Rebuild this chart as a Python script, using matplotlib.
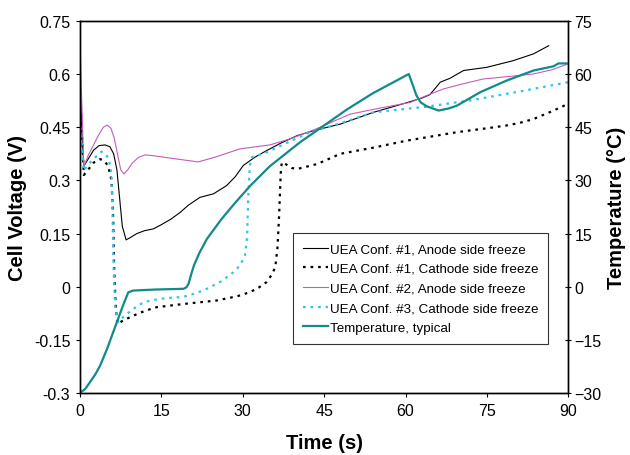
"""Cell voltage and temperature during freeze start-up for several UEA configurations."""

import matplotlib

matplotlib.use("Agg")
import matplotlib.pyplot as plt

plt.rcParams["font.family"] = ["Liberation Sans", "DejaVu Sans"]

# UEA Conf. #1, anode side freeze
t_a1 = [0.0, 0.4, 0.7, 1.5, 2.5, 3.5, 4.6, 5.5, 6.2, 6.8, 7.3, 7.8, 8.5, 9.2, 10.5,
        11.9, 13.5, 15.0, 16.8, 18.5, 19.9, 22.1, 24.6, 27.0, 28.6, 30.1, 32.2,
        34.4, 37.0, 40.0, 43.0, 48.0, 54.1, 60.2, 63.0, 64.5, 65.5, 66.4, 68.2,
        70.7, 75.0, 79.9, 83.6, 86.4]
v_a1 = [0.586, 0.42, 0.34, 0.36, 0.385, 0.398, 0.40, 0.395, 0.375, 0.33, 0.25,
        0.17, 0.132, 0.138, 0.15, 0.158, 0.163, 0.175, 0.191, 0.21, 0.229, 0.252,
        0.262, 0.285, 0.31, 0.342, 0.365, 0.384, 0.405, 0.426, 0.44, 0.459, 0.492,
        0.519, 0.532, 0.542, 0.56, 0.577, 0.588, 0.61, 0.619, 0.638, 0.657, 0.68]

# UEA Conf. #1, cathode side freeze
t_c1 = [0.0, 0.7, 1.5, 2.5, 3.7, 4.5, 5.2, 5.8, 6.1, 6.3, 6.6, 6.9, 8.0, 9.8, 12.0,
        14.1, 19.0, 25.2, 29.0, 31.4, 33.0, 34.4, 35.4, 36.0, 36.4, 36.7, 37.0,
        37.2, 38.0, 39.0, 40.0, 43.7, 48.0, 54.0, 60.2, 69.5, 75.0, 78.7, 81.0,
        83.6, 87.0, 90.0]
v_c1 = [0.55, 0.315, 0.33, 0.35, 0.36, 0.355, 0.34, 0.30, 0.2, 0.05, -0.06, -0.105,
        -0.095, -0.082, -0.068, -0.058, -0.049, -0.039, -0.027, -0.015, -0.002,
        0.013, 0.035, 0.056, 0.11, 0.2, 0.32, 0.351, 0.345, 0.335, 0.332, 0.346,
        0.375, 0.392, 0.412, 0.436, 0.447, 0.455, 0.462, 0.473, 0.495, 0.516]

# UEA Conf. #2, anode side freeze
t_a2 = [0.0, 0.7, 1.5, 2.5, 3.5, 4.3, 5.0, 5.7, 6.3, 6.9, 7.5, 8.1, 8.8, 9.7, 10.8,
        12.0, 13.8, 17.0, 21.8, 25.0, 29.5, 35.0, 38.7, 43.5, 49.8, 55.0, 60.9,
        64.0, 67.0, 70.5, 74.3, 79.0, 83.5, 87.0, 90.0]
v_a2 = [0.68, 0.338, 0.37, 0.40, 0.43, 0.45, 0.456, 0.447, 0.42, 0.375, 0.33,
        0.318, 0.33, 0.35, 0.365, 0.372, 0.369, 0.362, 0.352, 0.366, 0.389, 0.40,
        0.417, 0.445, 0.487, 0.503, 0.52, 0.54, 0.558, 0.572, 0.586, 0.593, 0.60,
        0.612, 0.629]

# UEA Conf. #3, cathode side freeze
t_c3 = [0.0, 0.7, 1.5, 2.5, 3.5, 4.0, 4.7, 5.3, 5.8, 6.0, 6.2, 6.5, 7.0, 8.0, 9.8,
        11.3, 12.9, 16.0, 19.0, 21.5, 23.4, 26.0, 28.3, 29.5, 30.4, 30.8, 31.0,
        31.3, 31.7, 34.4, 38.0, 42.4, 48.0, 54.1, 63.9, 72.5, 81.8, 90.0]
v_c3 = [0.47, 0.327, 0.345, 0.36, 0.375, 0.381, 0.375, 0.36, 0.32, 0.2, 0.05,
        -0.06, -0.10, -0.085, -0.063, -0.048, -0.039, -0.032, -0.029, -0.018,
        -0.006, 0.015, 0.041, 0.06, 0.088, 0.14, 0.25, 0.34, 0.365, 0.379, 0.405,
        0.436, 0.461, 0.492, 0.508, 0.527, 0.553, 0.577]

# Temperature, typical (right axis, degC)
t_temp = [0.0, 1.0, 1.8, 2.8, 3.7, 5.0, 6.8, 8.0, 8.9, 9.8, 14.0, 19.1, 19.6, 20.0,
          20.5, 21.0, 22.0, 23.4, 26.1, 28.5, 31.4, 35.0, 40.6, 45.0, 49.2, 54.0,
          60.6, 61.2, 62.0, 62.8, 63.9, 66.1, 68.0, 69.5, 73.8, 78.7, 83.6, 87.3,
          88.2, 90.0]
temp = [-30.0, -28.8, -27.0, -24.8, -22.3, -17.5, -10.0, -5.0, -1.6, -1.1, -0.8,
        -0.6, -0.2, 0.8, 3.5, 6.0, 9.5, 13.5, 19.1, 23.5, 28.5, 34.0, 40.8, 45.5,
        50.0, 54.6, 60.0, 57.5, 54.0, 52.0, 50.9, 49.7, 50.3, 51.1, 54.9, 58.2,
        61.0, 62.2, 63.0, 63.0]

x_ticks = [0, 15, 30, 45, 60, 75, 90]
v_ticks = [-0.3, -0.15, 0, 0.15, 0.3, 0.45, 0.6, 0.75]
v_labels = ["-0.3", "-0.15", "0", "0.15", "0.3", "0.45", "0.6", "0.75"]
temp_ticks = [-30, -15, 0, 15, 30, 45, 60, 75]

fig = plt.figure(figsize=(6.3, 4.56), dpi=100)
ax = fig.add_axes([0.127, 0.136, 0.775, 0.816])
ax2 = ax.twinx()

l1, = ax.plot(t_a1, v_a1, color="black", linewidth=0.8,
              label="UEA Conf. #1, Anode side freeze")
l2, = ax.plot(t_c1, v_c1, color="black", linewidth=1.6, linestyle=(0, (1.2, 2.2)),
              label="UEA Conf. #1, Cathode side freeze")
l3, = ax.plot(t_a2, v_a2, color="#c45cbf", linewidth=0.8,
              label="UEA Conf. #2, Anode side freeze")
l4, = ax.plot(t_c3, v_c3, color="#2ec4f0", linewidth=1.6, linestyle=(0, (1.2, 2.2)),
              label="UEA Conf. #3, Cathode side freeze")
l5, = ax2.plot(t_temp, temp, color="#128a8a", linewidth=1.6,
               label="Temperature, typical")

ax.set_xlim(0, 90)
ax.set_ylim(-0.3, 0.75)
ax2.set_ylim(-30, 75)
ax.set_xticks(x_ticks)
ax.set_yticks(v_ticks, v_labels)
ax2.set_yticks(temp_ticks)

for spine in list(ax.spines.values()) + list(ax2.spines.values()):
    spine.set_linewidth(1.0)
ax.tick_params(axis="both", direction="out", length=3, labelsize=11.5, pad=4)
ax2.tick_params(axis="y", direction="inout", length=5, labelsize=11.5, pad=2)

ax.set_xlabel("Time (s)", fontsize=14.5, fontweight="bold", labelpad=11)
ax.set_ylabel("Cell Voltage (V)", fontsize=14.5, fontweight="bold", labelpad=5)
ax2.set_ylabel("Temperature (\u00b0C)", fontsize=14.5, fontweight="bold", labelpad=4)

leg = ax2.legend(
    handles=[l1, l2, l3, l4, l5],
    loc="upper left",
    bbox_to_anchor=(0.436, 0.430),
    borderaxespad=0,
    fontsize=9.6,
    frameon=True,
    fancybox=False,
    handlelength=1.9,
    handletextpad=0.1,
    labelspacing=0.55,
    borderpad=0.75,
)
leg.get_frame().set_edgecolor("black")
leg.get_frame().set_linewidth(0.8)

fig.savefig("out.png", dpi=100)
